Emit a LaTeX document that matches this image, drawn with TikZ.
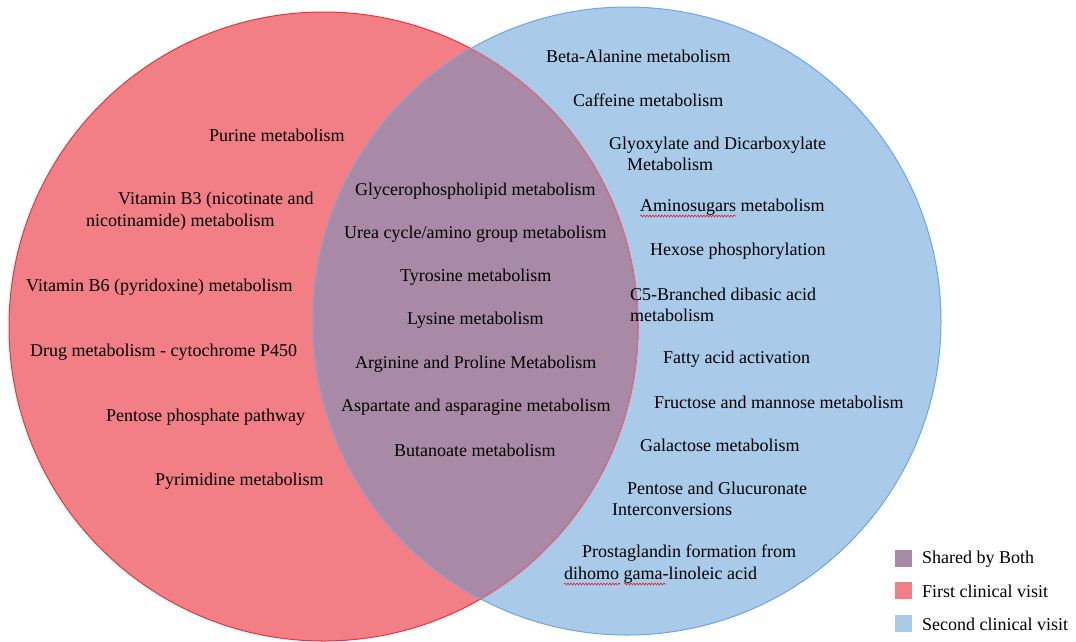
\documentclass[tikz,border=0pt]{standalone}
\usepackage{fontspec}
\setmainfont{Liberation Serif}
\usetikzlibrary{decorations.pathmorphing}
\definecolor{redfill}{HTML}{F37F86}
\definecolor{bluefill}{HTML}{A9CBE9}
\definecolor{bothfill}{HTML}{A98AA6}
\definecolor{redline}{HTML}{E8343E}
\definecolor{redinner}{HTML}{C97890}
\definecolor{blueline}{HTML}{6FA6DC}
\definecolor{spell}{HTML}{E02020}
\begin{document}
\begin{tikzpicture}[x=1pt,y=-1pt,
  lbl/.style={anchor=west,inner sep=0pt,font=\fontsize{18}{21.5}\selectfont,align=left,text=black},
  legbox/.style={minimum width=17pt,minimum height=17pt,inner sep=0pt},
  wavy/.style={draw=spell,line width=0.6pt,decorate,decoration={snake,amplitude=0.9pt,segment length=3pt}}]
\useasboundingbox (0,0) rectangle (1076,641);
% circles
\coordinate (rc) at (323.5,326.5);
\coordinate (bc) at (627,321);
\fill[redfill] (rc) circle[radius=314.5pt];
\fill[bluefill] (bc) circle[radius=314pt];
\begin{scope}
  \clip (rc) circle[radius=314.5pt];
  \fill[bothfill] (bc) circle[radius=314pt];
\end{scope}
\draw[redline,line width=1pt] (rc) circle[radius=314.5pt];
\begin{scope}
  \clip (bc) circle[radius=314pt];
  \draw[redinner,line width=1pt] (rc) circle[radius=314.5pt];
\end{scope}
\draw[blueline,line width=1pt] (bc) circle[radius=314pt];
\begin{scope}[yshift=-2pt]
% first visit only
\node[lbl] (purine) at (209,133) {Purine metabolism};
\node[lbl] (vb3) at (86,209) {\hspace*{32pt}Vitamin B3 (nicotinate and\\nicotinamide) metabolism};
\node[lbl] (vb6) at (26,285) {Vitamin B6 (pyridoxine) metabolism};
\node[lbl] (drug) at (30,350) {Drug metabolism - cytochrome P450};
\node[lbl] (pentp) at (106,415) {Pentose phosphate pathway};
\node[lbl] (pyrim) at (155,479) {Pyrimidine metabolism};
% shared
\node[lbl] (glyc) at (355,189) {Glycerophospholipid metabolism};
\node[lbl] (urea) at (344,232) {Urea cycle/amino group metabolism};
\node[lbl] (tyr) at (400,275) {Tyrosine metabolism};
\node[lbl] (lys) at (407,318) {Lysine metabolism};
\node[lbl] (arg) at (355,362) {Arginine and Proline Metabolism};
\node[lbl] (asp) at (341,405) {Aspartate and asparagine metabolism};
\node[lbl] (but) at (394,448) {Butanoate metabolism};
% second visit only
\node[lbl] (beta) at (546,54) {Beta-Alanine metabolism};
\node[lbl] (caff) at (573,98) {Caffeine metabolism};
\node[lbl] (glyo) at (609,152) {Glyoxylate and Dicarboxylate\\\hspace*{18pt}Metabolism};
\node[lbl] (amino) at (640,205) {Aminosugars metabolism};
\node[lbl] (hex) at (650,249) {Hexose phosphorylation};
\node[lbl] (c5) at (630,303) {C5-Branched dibasic acid\\metabolism};
\node[lbl] (fatty) at (663,357) {Fatty acid activation};
\node[lbl] (fruct) at (654,400) {Fructose and mannose metabolism};
\node[lbl] (galac) at (640,443) {Galactose metabolism};
\node[lbl] (pglu) at (612,497) {\hspace*{15pt}Pentose and Glucuronate\\Interconversions};
\node[lbl] (prost) at (564,562) {\hspace*{18pt}Prostaglandin formation from\\dihomo gama-linoleic acid};
% spell-check underlines
\coordinate (w1a) at (640,214); \coordinate (w1b) at (736,214);
\coordinate (w2a) at (564,582); \coordinate (w2b) at (620,582);
\coordinate (w3a) at (624,582); \coordinate (w3b) at (666,582);
\draw[wavy] (w1a) -- (w1b);
\draw[wavy] (w2a) -- (w2b);
\draw[wavy] (w3a) -- (w3b);
% legend text
\node[lbl] (tb) at (922,557) {Shared by Both};
\node[lbl] (tr) at (922,589.5) {First clinical visit};
\node[lbl] (tbl) at (922,622) {Second clinical visit};
\end{scope}
% legend keys
\node[legbox,fill=bothfill] (kb) at (903.5,558) {};
\node[legbox,fill=redfill] (kr) at (903.5,590.5) {};
\node[legbox,fill=bluefill] (kbl) at (903.5,623) {};
\end{tikzpicture}
\end{document}
